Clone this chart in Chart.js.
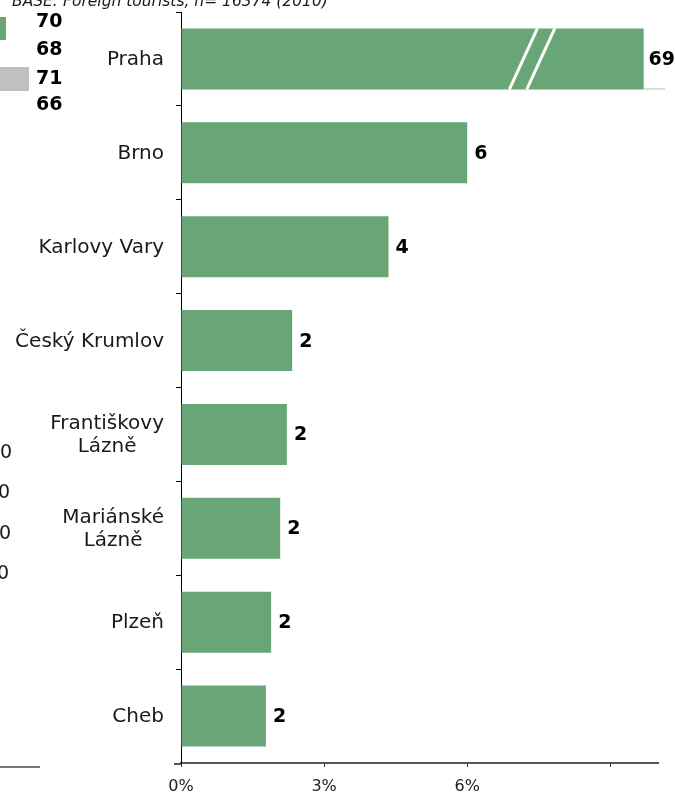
<!DOCTYPE html>
<html>
<head>
<meta charset="utf-8">
<script src="https://cdn.jsdelivr.net/npm/chart.js@4.4.0/dist/chart.umd.min.js"></script>
<style>
    html, body { margin: 0; padding: 0; background: #fff; }
    #wrap { width: 675px; height: 796px; position: relative; }
</style>
</head>
<body>
<div id="wrap"><canvas id="destinations"></canvas></div>
<script>
// chart data
const cities = [['Praha'], ['Brno'], ['Karlovy Vary'], ['Český Krumlov'], ['Františkovy', 'Lázně'], ['Mariánské', 'Lázně'], ['Plzeň'], ['Cheb']];
const shares = [69, 6.0, 4.35, 2.33, 2.22, 2.08, 1.89, 1.78];
const xTicks = [0, 3, 6, 9];
const xTickLabels = ['0%', '3%', '6%', ''];
const baseNote = 'BASE: Foreign tourists, n= 16374 (2010)';

// pieces of the neighbouring chart, cut off on the left
const sideValues = ['70', '68', '71', '66'];
const sideZeros = ['0', '0', '0', '0'];

const axisMax = 10;
const breakAt = 9.7;    // Praha is too long, the bar is broken
const breakMark = 7.36; // where the two slashes go

const green = '#68a678';
const font = '"DejaVu Sans", Verdana, sans-serif';

const extras = {
    id: 'extras',
    afterDatasetsDraw(chart) {
        const ctx = chart.ctx;
        const meta = chart.getDatasetMeta(0);
        const xs = chart.scales.x;
        const ys = chart.scales.y;
        ctx.save();

        // axis break on Praha
        meta.data.forEach((bar, i) => {
            if (shares[i] <= breakAt) return;
            const top = bar.y - bar.height / 2;
            const bottom = bar.y + bar.height / 2;
            const c = xs.getPixelForValue(breakMark);
            ctx.strokeStyle = '#fff';
            ctx.lineWidth = 3;
            [-8.7, 8.7].forEach(off => {
                ctx.beginPath();
                ctx.moveTo(c + off - 14, bottom);
                ctx.lineTo(c + off + 14, top);
                ctx.stroke();
            });
            ctx.strokeStyle = '#a9c9b1';
            ctx.lineWidth = 1;
            ctx.beginPath();
            ctx.moveTo(bar.x, bottom - 0.5);
            ctx.lineTo(chart.chartArea.right + 7, bottom - 0.5);
            ctx.stroke();
        });

        // value labels
        ctx.font = 'bold 19px ' + font;
        ctx.fillStyle = '#000';
        ctx.textAlign = 'left';
        ctx.textBaseline = 'middle';
        meta.data.forEach((bar, i) => {
            const txt = String(Math.round(shares[i]));
            const w = ctx.measureText(txt).width;
            ctx.fillText(txt, Math.min(bar.x + 7, chart.width - w), bar.y + 1);
        });

        // category labels, lines centred on each other
        ctx.font = '20px ' + font;
        ctx.fillStyle = '#1a1a1a';
        ctx.textAlign = 'center';
        cities.forEach((lines, i) => {
            const cy = ys.getPixelForValue(i);
            const widest = Math.max(...lines.map(l => ctx.measureText(l).width));
            const cx = 164 - widest / 2;
            lines.forEach((l, j) => {
                ctx.fillText(l, cx, cy + 1 + (j - (lines.length - 1) / 2) * 23);
            });
        });

        // x axis line runs a bit past the y axis
        ctx.strokeStyle = '#555';
        ctx.lineWidth = 2;
        ctx.beginPath();
        ctx.moveTo(174, chart.chartArea.bottom + 1);
        ctx.lineTo(chart.chartArea.left, chart.chartArea.bottom + 1);
        ctx.stroke();
        ctx.restore();
    },
    afterDraw(chart) {
        const ctx = chart.ctx;
        ctx.save();
        ctx.fillStyle = '#1a1a1a';
        ctx.font = 'italic 15.5px ' + font;
        ctx.textAlign = 'left';
        ctx.textBaseline = 'alphabetic';
        ctx.fillText(baseNote, 12, 6);

        ctx.fillStyle = green;
        ctx.fillRect(0, 17, 6, 23);
        ctx.fillStyle = '#c0c0c0';
        ctx.fillRect(0, 67, 29, 24);

        ctx.fillStyle = '#000';
        ctx.font = 'bold 19px ' + font;
        ctx.textBaseline = 'middle';
        const sideY = [22, 50, 79, 105];
        sideValues.forEach((v, i) => ctx.fillText(v, 36, sideY[i]));

        ctx.font = '19px ' + font;
        ctx.fillStyle = '#1a1a1a';
        ctx.textAlign = 'right';
        const zeroY = [453, 493, 534, 574];
        const zeroX = [12, 10, 11, 9];
        sideZeros.forEach((v, i) => ctx.fillText(v, zeroX[i], zeroY[i]));

        ctx.strokeStyle = '#777';
        ctx.lineWidth = 2;
        ctx.beginPath();
        ctx.moveTo(0, 767);
        ctx.lineTo(40, 767);
        ctx.stroke();
        ctx.restore();
    }
};

const ctx = document.getElementById('destinations').getContext('2d');

const chart = new Chart(ctx, {
    type: 'bar',
    data: {
        labels: cities.map(c => c.join(' ')),
        datasets: [{
            data: shares.map(v => Math.min(v, breakAt)),
            backgroundColor: green,
            borderWidth: 0,
            barPercentage: 0.65,
            categoryPercentage: 1,
        }]
    },
    options: {
        indexAxis: 'y',
        responsive: true,
        maintainAspectRatio: false,
        animation: false,
        layout: { padding: { top: 12, right: 17, bottom: 0, left: 0 } },
        plugins: {
            legend: { display: false },
            tooltip: { enabled: false },
        },
        scales: {
            x: {
                min: 0,
                max: axisMax,
                afterBuildTicks: s => { s.ticks = xTicks.map(v => ({ value: v })); },
                afterFit: s => { s.height = 33; },
                grid: { drawOnChartArea: false, tickLength: 4, color: '#333' },
                border: { color: '#555', width: 2 },
                ticks: {
                    autoSkip: false,
                    maxRotation: 0,
                    padding: 10,
                    color: '#222',
                    font: { size: 16, family: font },
                    callback: v => xTickLabels[xTicks.indexOf(v)],
                }
            },
            y: {
                offset: true,
                afterFit: s => { s.width = 181; },
                grid: { offset: true, drawOnChartArea: false, tickLength: 5, color: '#000' },
                border: { color: '#000', width: 1 },
                ticks: { display: false }
            }
        }
    },
    plugins: [extras]
});
</script>
</body>
</html>
